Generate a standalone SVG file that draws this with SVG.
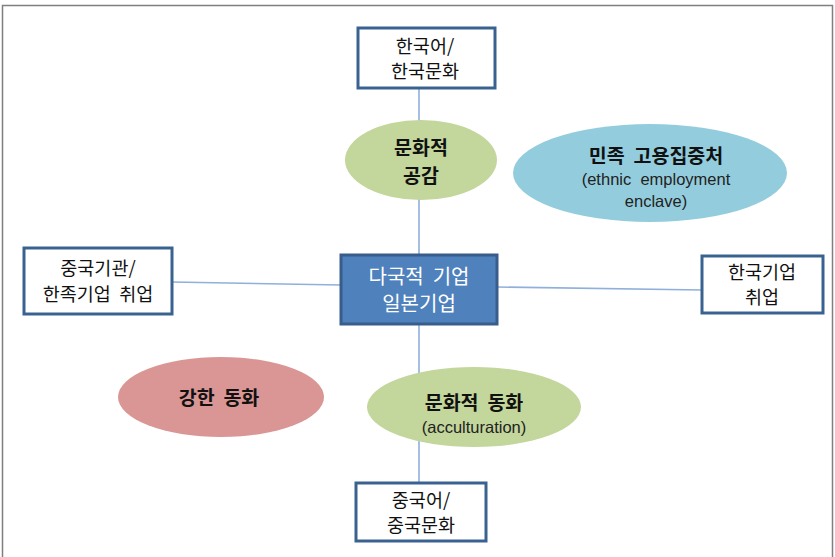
<svg xmlns="http://www.w3.org/2000/svg" width="835" height="557" viewBox="0 0 835 557">
  <style>
    .box { fill: #ffffff; stroke: #3a6291; stroke-width: 3; }
    .core { fill: #4f81bd; stroke: #385d8a; stroke-width: 3; }
    .link { stroke: #8eb0db; stroke-width: 1.6; fill: none; }
    .t { font-family: "Noto Sans CJK KR", "Noto Sans", sans-serif; fill: #111111; text-anchor: middle; white-space: pre; }
    .box-t { font-size: 18.5px; }
    .core-t { font-size: 20px; fill: #ffffff; }
    .bold { font-size: 19.5px; font-weight: bold; }
    .en { font-family: "Liberation Sans", "Noto Sans", sans-serif; font-size: 16.5px; fill: #222222; text-anchor: middle; white-space: pre; }
  </style>

  <rect width="835" height="557" fill="#ffffff"/>
  <!-- outer frame -->
  <path d="M2.5,557 V5.5 H832.5 V557" fill="none" stroke="#7f7f7f" stroke-width="1.5"/>

  <g id="connectors">
    <line class="link" x1="419" y1="88" x2="419" y2="255"/>
    <line class="link" x1="419" y1="324" x2="419" y2="483"/>
    <line class="link" x1="172" y1="282" x2="341" y2="285"/>
    <line class="link" x1="497" y1="287" x2="702" y2="290"/>
  </g>

  <g id="korean-culture">
    <rect class="box" x="358" y="28" width="137" height="60"/>
    <text class="t box-t" x="425" y="53">한국어/</text>
    <text class="t box-t" x="425" y="78">한국문화</text>
  </g>

  <g id="chinese-culture">
    <rect class="box" x="356" y="483" width="130" height="58"/>
    <text class="t box-t" x="421" y="507">중국어/</text>
    <text class="t box-t" x="421" y="532">중국문화</text>
  </g>

  <g id="chinese-employment">
    <rect class="box" x="24" y="248" width="148" height="66"/>
    <text class="t box-t" x="98" y="275">중국기관/</text>
    <text class="t box-t" x="98" y="301">한족기업  취업</text>
  </g>

  <g id="korean-employment">
    <rect class="box" x="702" y="256" width="121" height="57"/>
    <text class="t box-t" x="762" y="279">한국기업</text>
    <text class="t box-t" x="762" y="304">취업</text>
  </g>

  <g id="multinational">
    <rect class="core" x="341" y="255" width="156" height="69"/>
    <text class="t core-t" x="419" y="284">다국적  기업</text>
    <text class="t core-t" x="419" y="311">일본기업</text>
  </g>

  <g id="cultural-empathy">
    <ellipse cx="421" cy="160" rx="76" ry="40" fill="#c3d69b"/>
    <text class="t bold" x="421" y="155" font-size="19">문화적</text>
    <text class="t bold" x="421" y="183" font-size="19">공감</text>
  </g>

  <g id="ethnic-enclave">
    <ellipse cx="650" cy="173" rx="137" ry="49" fill="#93cddd"/>
    <text class="t bold" x="656" y="163">민족  고용집중처</text>
    <text class="en" x="656" y="185">(ethnic  employment</text>
    <text class="en" x="656" y="207">enclave)</text>
  </g>

  <g id="strong-assimilation">
    <ellipse cx="221" cy="397" rx="103" ry="40" fill="#d99694"/>
    <text class="t bold" x="219" y="405">강한  동화</text>
  </g>

  <g id="acculturation">
    <ellipse cx="474" cy="407" rx="107" ry="40" fill="#c3d69b"/>
    <text class="t bold" x="474" y="410">문화적  동화</text>
    <text class="en" x="474" y="433">(acculturation)</text>
  </g>
</svg>
